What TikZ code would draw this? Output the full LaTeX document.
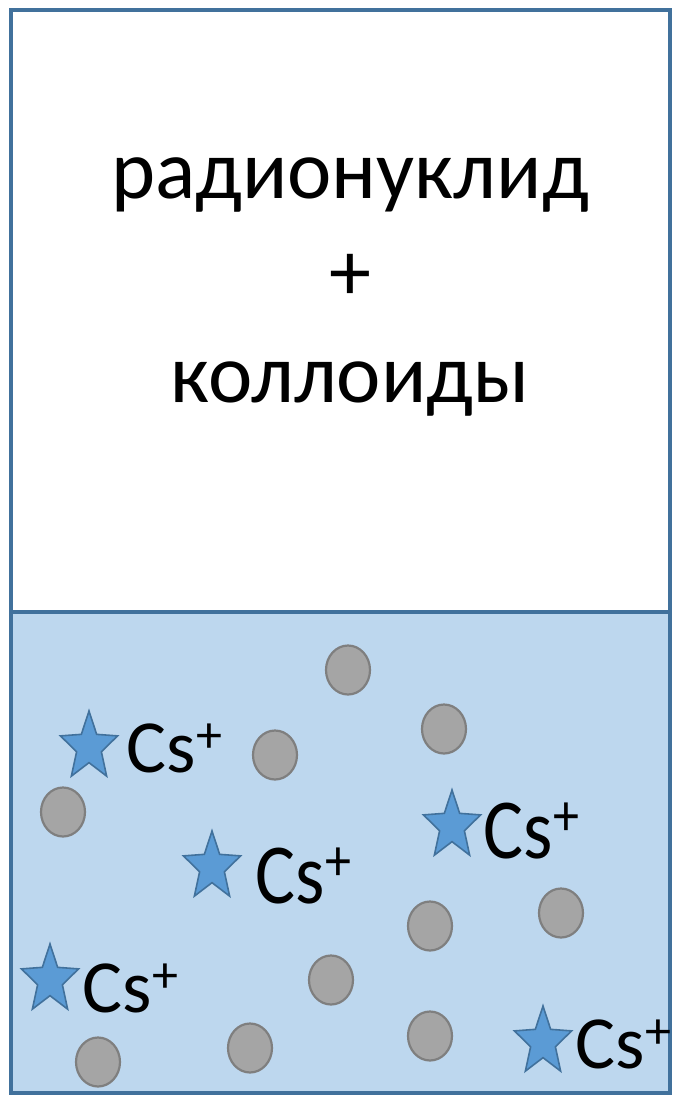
\documentclass[tikz,border=0pt]{standalone}
\usepackage{fontspec}
\setmainfont{Carlito}
\usepackage{xcolor}
\usetikzlibrary{shapes.geometric,calc}
\definecolor{azulborde}{HTML}{41719C}
\definecolor{azulfondo}{HTML}{BDD7EE}
\definecolor{azulion}{HTML}{5B9BD5}
\definecolor{grisfondo}{HTML}{A5A5A5}
\definecolor{grisborde}{HTML}{7F7F7F}
\newcommand{\carga}{\kern1pt\raisebox{20pt}{\fontsize{52}{52}\selectfont +}}
\tikzset{
  recipiente/.style={draw=azulborde, line width=4pt},
  coloide/.style={ellipse, draw=grisborde, fill=grisfondo, line width=2.2pt,
                  minimum width=44pt, minimum height=49pt, inner sep=0pt},
  cesio/.style={star, star points=5, star point ratio=2.3, draw=azulborde,
                fill=azulion, line width=1.6pt, minimum size=60pt,
                inner sep=0pt, yscale=1.2, transform shape},
  ion/.style={anchor=base west, inner sep=0pt, font=\fontsize{75}{90}\selectfont},
  texto/.style={align=center, inner sep=0pt, font=\fontsize{84}{102}\selectfont}
}

\begin{document}
\begin{tikzpicture}[x=1pt, y=-1pt]
  \useasboundingbox (0,0) rectangle (673,1096);
  % --- Recipiente ---
  \def\xL{11}    % borde izquierdo
  \def\xR{670}   % borde derecho
  \def\yT{10}    % arriba
  \def\yM{612}   % nivel del sedimento
  \def\yB{1093}  % fondo
  \fill[white] (\xL,\yT) rectangle (\xR,\yM);
  \fill[azulfondo] (\xL,\yM) rectangle (\xR,\yB);
  \draw[recipiente] (\xL,\yM) -- (\xR,\yM);
  \draw[recipiente] (\xL,\yT) rectangle (\xR,\yB);

  % --- Solucion (base = ultima linea) ---
  \node[texto, anchor=base] (sol) at (350,402) {радионуклид\\+\\коллоиды};

  % --- Coloides ---
  \foreach \x/\y [count=\i] in {348/670, 444/729, 275/755, 63/812, 430/926,
                                561/913, 331/980, 98/1062, 250/1048, 430/1036}
    \node[coloide] (c\i) at (\x,\y) {};

  % --- Iones Cs+ ---
  \node[cesio] (s1) at (89,747)  {};
  \node[cesio] (s2) at (212,867) {};
  \node[cesio] (s3) at (452,826) {};
  \node[cesio] (s4) at (50,980)  {};
  \node[cesio] (s5) at (543,1042) {};
  \node[ion] (i1) at ($(s1)+(37,25)$) {Cs\carga};
  \node[ion, yscale=1.14, transform shape] (i2) at ($(s2)+(43,36)$) {Cs\carga};
  \node[ion, yscale=1.14, transform shape] (i3) at ($(s3)+(31,32)$) {Cs\carga};
  \node[ion] (i4) at ($(s4)+(32,32)$) {Cs\carga};
  \node[ion] (i5) at ($(s5)+(32,26)$) {Cs\carga};
\end{tikzpicture}
\end{document}
